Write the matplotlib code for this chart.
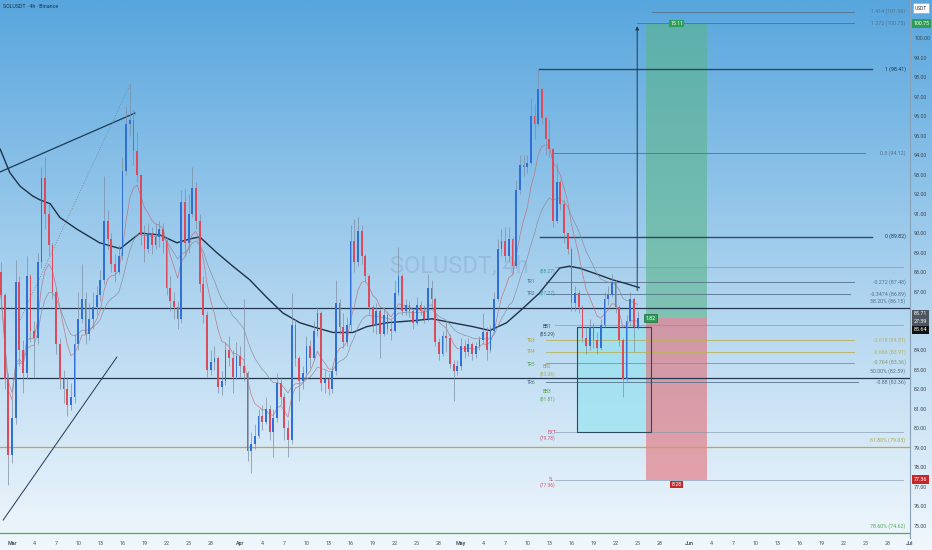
import matplotlib
matplotlib.use("Agg")
import matplotlib.pyplot as plt
import matplotlib.dates as mdates
from matplotlib.colors import LinearSegmentedColormap
from matplotlib.patches import Rectangle
import numpy as np
import pandas as pd

plt.rcParams['font.family'] = ['Roboto', 'DejaVu Sans']

# SOLUSDT candles (12h buckets), first one opens Feb 27 12:00
first_open = 88.0
closes = [86.8, 82.5, 78.6, 80.5, 87.5, 84.0, 82.8, 87.8, 85.0, 84.6,
          88.5, 92.8, 91.0, 89.4, 87.0, 84.3, 82.5, 82.0, 81.2, 81.6,
          84.3, 85.6, 86.6, 84.8, 85.6, 86.2, 86.8, 87.6, 90.6, 89.7,
          88.4, 88.0, 88.8, 93.2, 95.6, 95.8, 94.2, 93.0, 89.9, 89.2,
          90.0, 89.4, 89.8, 90.2, 89.6, 87.2, 86.5, 86.2, 85.6, 91.6,
          89.5, 91.0, 92.3, 90.6, 87.4, 85.8, 83.0, 83.4, 83.6, 82.1,
          82.4, 84.0, 83.6, 82.6, 83.7, 83.2, 82.8, 78.8, 79.2, 79.6,
          80.6, 80.3, 81.0, 79.8, 80.5, 82.3, 81.6, 80.0, 79.4, 85.3,
          83.6, 82.4, 82.8, 84.2, 83.6, 85.0, 85.9, 82.3, 82.5, 82.0,
          82.9, 86.4, 85.2, 84.4, 85.3, 89.6, 88.5, 90.1, 88.8, 87.8,
          86.2, 85.3, 86.0, 84.8, 85.8, 85.1, 85.0, 86.9, 87.8, 86.0,
          86.3, 86.0, 85.4, 86.3, 86.0, 85.6, 87.2, 86.6, 84.4, 83.8,
          84.7, 84.6, 83.3, 82.9, 83.2, 84.2, 83.9, 84.3, 83.8, 84.2,
          84.5, 84.9, 84.0, 85.0, 86.6, 89.2, 89.6, 88.8, 89.7, 88.3,
          92.2, 93.5, 93.4, 93.6, 96.0, 95.6, 97.4, 95.9, 94.8, 94.3,
          90.6, 92.6, 91.5, 90.0, 89.2, 86.4, 86.9, 86.2, 84.6, 84.2,
          85.2, 84.5, 84.1, 85.3, 86.6, 86.8, 87.5, 86.2, 84.5, 82.5,
          85.5, 86.6, 85.2, 85.64]
highs = [88.5, 86.9, 82.8, 81.5, 88.6, 87.8, 84.5, 88.8, 87.9, 85.5,
         89.0, 93.4, 93.9, 91.5, 89.5, 87.2, 84.6, 83.0, 82.6, 82.3,
         84.8, 87.0, 88.4, 87.0, 86.4, 87.0, 87.3, 88.1, 92.9, 91.2,
         90.0, 88.9, 89.4, 93.9, 96.5, 97.7, 96.3, 95.2, 92.5, 90.4,
         90.5, 90.3, 90.5, 90.6, 90.5, 89.8, 87.8, 87.0, 86.5, 92.2,
         92.3, 92.0, 93.4, 92.6, 91.0, 87.8, 86.0, 84.0, 84.2, 83.7,
         82.9, 84.4, 84.7, 84.0, 84.4, 84.2, 86.6, 82.9, 79.8, 80.2,
         81.0, 81.2, 81.6, 81.2, 81.0, 82.8, 82.6, 81.8, 80.4, 86.9,
         85.6, 83.7, 83.2, 84.7, 84.5, 85.5, 86.2, 86.0, 83.0, 82.8,
         83.2, 87.6, 86.6, 85.9, 85.7, 90.4, 90.7, 90.8, 90.4, 88.9,
         87.9, 86.3, 86.4, 86.1, 86.2, 86.0, 85.6, 87.6, 89.3, 87.9,
         86.6, 86.5, 86.1, 86.7, 86.5, 86.3, 87.9, 87.6, 86.7, 84.6,
         85.0, 85.5, 84.8, 83.5, 83.5, 84.6, 84.5, 84.6, 84.4, 84.4,
         84.7, 85.9, 85.2, 85.3, 87.0, 89.7, 90.2, 90.3, 90.3, 89.8,
         92.7, 94.0, 94.0, 94.0, 96.9, 96.6, 98.4, 97.5, 96.0, 95.8,
         94.3, 93.6, 92.7, 91.7, 90.0, 89.3, 87.3, 87.1, 86.3, 85.2,
         85.6, 85.4, 84.9, 85.6, 87.0, 87.3, 87.9, 87.6, 86.3, 84.6,
         85.8, 87.0, 86.7, 86.0]
lows = [86.5, 82.0, 77.1, 78.2, 80.2, 83.2, 81.8, 82.5, 84.4, 82.6,
        84.3, 88.2, 90.2, 88.8, 86.6, 83.8, 82.0, 81.3, 80.6, 80.9,
        81.3, 84.0, 85.4, 84.3, 84.5, 85.1, 85.8, 86.5, 87.4, 89.2,
        88.0, 87.5, 87.9, 88.6, 93.0, 95.0, 93.5, 92.6, 89.4, 88.5,
        89.0, 88.9, 89.2, 89.3, 89.0, 86.8, 86.0, 85.6, 85.1, 85.4,
        88.8, 89.0, 90.8, 90.2, 87.0, 85.4, 82.6, 82.7, 83.0, 81.8,
        81.7, 82.2, 83.2, 81.8, 82.5, 82.6, 82.4, 78.3, 77.7, 78.9,
        79.5, 79.9, 80.2, 79.4, 78.5, 80.3, 81.2, 79.4, 78.5, 79.2,
        83.2, 81.4, 82.0, 82.6, 83.1, 83.5, 84.7, 81.9, 81.8, 81.7,
        81.8, 82.7, 84.8, 84.1, 84.2, 85.0, 88.0, 88.3, 88.4, 87.5,
        85.8, 84.9, 84.8, 83.6, 84.7, 84.8, 84.5, 84.9, 86.8, 85.8,
        85.8, 85.7, 85.1, 85.3, 85.8, 85.4, 85.5, 86.2, 84.2, 83.5,
        83.7, 83.9, 83.1, 81.4, 82.7, 83.0, 83.6, 83.7, 83.5, 83.6,
        84.0, 84.3, 83.5, 83.9, 84.9, 86.5, 88.8, 88.5, 88.5, 87.9,
        88.2, 92.0, 92.9, 93.1, 93.5, 94.8, 95.5, 95.6, 94.0, 93.9,
        90.3, 90.5, 91.2, 89.5, 88.9, 86.0, 86.0, 85.9, 84.4, 83.8,
        84.0, 84.1, 83.8, 84.0, 85.2, 86.3, 86.7, 85.9, 84.2, 81.6,
        82.4, 85.3, 83.9, 85.1]

# slow moving average (thick line), days after Mar 1
ma_days = [-1.6, -0.3, 1.1, 2.8, 3.8, 5.2, 6.5, 8.8, 11.9, 14.7, 17.4, 20.1,
           22.4, 24.2, 25.5, 27.8, 30.0, 32.3, 34.6, 36.8, 39.1, 40.8, 43.6,
           46.3, 48.2, 50.9, 54.4, 57.1, 59.8, 62.6, 64.9, 67.2, 69.3, 71.6,
           74.4, 75.7, 77.1, 79.4, 81.6, 83.5, 85.2]
ma_vals = [94.3, 93.1, 92.4, 91.9, 91.7, 91.5, 90.8, 90.2, 89.5, 89.2, 90.0,
           89.9, 89.5, 89.7, 89.8, 89.0, 88.3, 87.6, 86.7, 85.9, 85.4, 85.2,
           84.9, 84.9, 85.2, 85.4, 85.5, 85.6, 85.4, 85.2, 85.0, 85.4, 86.1,
           86.9, 88.2, 88.3, 88.2, 87.9, 87.6, 87.4, 87.2]

# trend drawings: (day, price) pairs
trend_upper = [(-1.63, 93.13), (16.7, 96.15)]
trend_dotted = [(1.1, 85.54), (16.0, 97.59)]
trend_lower = [(-1.2, 75.28), (14.25, 83.64)]

# fib extension levels on the right
fib_labels = ["1.414 (101.36)", "1.272 (100.75)", "1 (98.41)", "0.5 (94.12)",
              "0 (89.82)", "-0.272 (87.48)", "-0.3474 (86.89)", "-0.618 (84.51)",
              "-0.666 (83.91)", "-0.764 (83.36)", "-0.88 (82.36)"]
fib_prices = [101.36, 100.75, 98.41, 94.12, 89.82, 87.48, 86.89, 84.51,
              83.91, 83.36, 82.36]
fib_start = [87.0, 84.9, 71.6, 73.4, 71.8, 72.5, 72.5, 72.5, 72.5, 72.5, 72.5]
fib_colors = ["#55708a", "#55708a", "#1d3550", "#55708a", "#1d3550", "#55708a",
              "#55708a", "#b9b25a", "#b9b25a", "#7f9a78", "#55708a"]

# retracement levels drawn across the chart
ret_labels = ["38.20% (86.15)", "50.00% (82.59)", "61.80% (79.03)", "78.60% (74.62)"]
ret_prices = [86.15, 82.59, 79.03, 74.62]
ret_colors = ["#22374d", "#22374d", "#c9a536", "#4caf50"]
ret_text_colors = ["#55708a", "#55708a", "#b0a850", "#4caf50"]

# other levels
extra_prices = [88.27, 85.29, 79.78, 77.36]

# level tags next to the zone
tag_texts = ["(88.27)", "TR1", "TR2", "(87.27)", "BB1", "(85.29)", "TR3", "TR4",
             "TR5", "BB2", "(83.06)", "TR6", "BB3", "(81.81)", "EXT", "(79.78)",
             "SL", "(77.36)"]
tag_days = [72.7, 70.6, 70.6, 72.8, 72.7, 72.7, 70.6, 70.6, 70.6, 72.7, 72.7,
            70.6, 72.7, 72.7, 73.3, 72.7, 73.3, 72.7]
tag_prices = [88.05, 87.5, 86.9, 86.9, 85.2, 84.82, 84.51, 83.9, 83.28, 83.13,
              82.77, 82.31, 81.85, 81.49, 79.79, 79.49, 77.38, 77.08]
tag_colors = ["#3a9aa0", "#55708a", "#55708a", "#3a9aa0", "#3d4f63", "#3d4f63",
              "#b0a850", "#b0a850", "#5aa85a", "#b0a850", "#b0a850", "#55708a",
              "#5aa85a", "#5aa85a", "#d0587a", "#d0587a", "#d0587a", "#d0587a"]

# long position tool
entry, target, stop = 85.64, 100.75, 77.36
pos_start, pos_end = 86.16, 94.44
zone_start, zone_end, zone_low, zone_high = 76.8, 86.84, 79.78, 85.2

yticks = [75, 76, 77, 78, 79, 80, 81, 82, 83, 84, 87, 88, 89, 90, 91, 92, 93,
          94, 95, 96, 97, 98, 99, 100]

t0 = mdates.date2num(pd.Timestamp("2026-03-01"))
times = pd.date_range("2026-02-27 12:00", periods=len(closes), freq="12h")
x = mdates.date2num(times)
opens = [first_open] + closes[:-1]

fig = plt.figure(figsize=(9.32, 5.5), dpi=100)

# background gradient
bg = fig.add_axes([0, 0, 1, 1], zorder=-10)
cmap = LinearSegmentedColormap.from_list("bg", ["#58a6de", "#a9d1ee", "#f1f7fc"])
bg.imshow(np.linspace(0, 1, 256).reshape(-1, 1), aspect="auto", cmap=cmap,
          extent=[0, 1, 0, 1])
bg.axis("off")

ax = fig.add_axes([0, 12 / 550, 910 / 932, 538 / 550])
ax.patch.set_alpha(0)
ax.set_xlim(t0 - 1.63, t0 + 121.85)
ax.set_ylim(74.36, 101.95)

# watermark
ax.text(t0 + 51.3, 88.3, "SOLUSDT, 4h", fontsize=17, color="#86a9c8", alpha=0.45,
        ha="left", va="center", zorder=0)

# full width levels
for p, c in zip(ret_prices, ret_colors):
    ax.axhline(p, color=c, lw=0.9, zorder=2)
for lab, p, c in zip(ret_labels, ret_prices, ret_text_colors):
    ax.text(t0 + 121.4, p + 0.35, lab, fontsize=3.8, color=c, ha="right",
            va="center", zorder=6)

# fib levels
for lab, p, s, c in zip(fib_labels, fib_prices, fib_start, fib_colors):
    end = 121.4 - len(lab) * 0.5
    lw = 1.0 if c == "#1d3550" else 0.7
    ax.plot([t0 + s, t0 + end], [p, p], color=c, lw=lw, alpha=0.85, zorder=2)
    ax.text(t0 + 121.4, p, lab, fontsize=3.8, color=c, ha="right", va="center",
            zorder=6)
for p in extra_prices:
    ax.plot([t0 + 73.8, t0 + 121.0], [p, p], color="#7d93a8", lw=0.6,
            alpha=0.7, zorder=2)

# trend lines
ax.plot([t0 + trend_upper[0][0], t0 + trend_upper[1][0]],
        [trend_upper[0][1], trend_upper[1][1]], color="#1f3a55", lw=0.9, zorder=3)
ax.plot([t0 + trend_lower[0][0], t0 + trend_lower[1][0]],
        [trend_lower[0][1], trend_lower[1][1]], color="#1f3a55", lw=0.7, zorder=3)
ax.plot([t0 + trend_dotted[0][0], t0 + trend_dotted[1][0]],
        [trend_dotted[0][1], trend_dotted[1][1]], color="#6d8296", lw=0.6,
        ls=(0, (1, 2)), zorder=3)

# zone and position tool
ax.add_patch(Rectangle((t0 + zone_start, zone_low), zone_end - zone_start,
                       zone_high - zone_low, fc="#8fe3ef", alpha=0.6, ec="none", zorder=1))
ax.add_patch(Rectangle((t0 + zone_start, zone_low), zone_end - zone_start,
                       zone_high - zone_low, fc="none", ec="#2f4a5e", lw=0.8, zorder=4))
ax.add_patch(Rectangle((t0 + pos_start, entry), pos_end - pos_start, target - entry,
                       fc="#5bb58a", alpha=0.6, ec="none", zorder=1))
ax.add_patch(Rectangle((t0 + pos_start, stop), pos_end - pos_start, entry - stop,
                       fc="#e5636a", alpha=0.55, ec="none", zorder=1))
ax.annotate("", xy=(t0 + 84.94, 100.75), xytext=(t0 + 84.94, 86.9),
            arrowprops=dict(arrowstyle="-|>", color="#23384e", lw=0.7,
                            mutation_scale=5), zorder=5)
mid = t0 + (pos_start + pos_end) / 2
ax.text(mid, target, "15.11", fontsize=3.8, color="white", ha="center", va="center",
        bbox=dict(boxstyle="square,pad=0.25", fc="#2e9d57", ec="none"), zorder=7)
ax.text(t0 + pos_start + 0.6, entry, "1.82", fontsize=3.8, color="white", ha="center",
        va="center", bbox=dict(boxstyle="square,pad=0.25", fc="#2e9d57", ec="#1a6b3a",
                               lw=0.5), zorder=7)
ax.text(mid, stop - 0.25, "8.28", fontsize=3.8, color="white", ha="center", va="center",
        bbox=dict(boxstyle="square,pad=0.25", fc="#c62828", ec="none"), zorder=7)

# level tags
for t, d, p, c in zip(tag_texts, tag_days, tag_prices, tag_colors):
    ax.text(t0 + d, p, t, fontsize=3.5, color=c, ha="center", va="center", zorder=6)

# moving averages
ax.plot(t0 + np.array(ma_days), ma_vals, color="#1f3246", lw=1.0, zorder=4)
s = pd.Series(closes)
ax.plot(x, s.ewm(span=8).mean(), color="#c0707c", lw=0.5, alpha=0.9, zorder=4)
ax.plot(x, s.ewm(span=20).mean(), color="#8b8a98", lw=0.5, alpha=0.9, zorder=4)

# candles
o = np.array(opens)
c = np.array(closes)
up = c >= o
cols = np.where(up, "#2f6fd6", "#dc4b5c")
ax.vlines(x, lows, highs, color="#7d8ea3", lw=0.5, zorder=5)
ax.bar(x, np.maximum(np.abs(c - o), 0.08), bottom=np.minimum(o, c), width=0.24,
       color=cols, zorder=5)

# axes styling
for side in ["top", "left", "bottom"]:
    ax.spines[side].set_visible(False)
ax.spines["right"].set_color("#8aa2b8")
ax.spines["right"].set_linewidth(0.8)
ax.yaxis.tick_right()
ax.set_yticks(yticks)
ax.set_yticklabels([f"{v:.2f}" for v in yticks])
ax.tick_params(axis="y", length=0, pad=3, labelsize=3.9, colors="#3d4a57")

xt, xl = [], []
for month, name in [(3, "Mar"), (4, "Apr"), (5, "May"), (6, "Jun")]:
    for day in range(1, 29, 3):
        xt.append(mdates.date2num(pd.Timestamp(2026, month, day)))
        xl.append(name if day == 1 else str(day))
xt.append(mdates.date2num(pd.Timestamp(2026, 7, 1)))
xl.append("Jul")
ax.set_xticks(xt)
ax.set_xticklabels(xl)
ax.tick_params(axis="x", length=0, pad=2, labelsize=3.9, colors="#4a5866")
for lab in ax.get_xticklabels():
    if lab.get_text() in ("Mar", "Apr", "May", "Jun", "Jul"):
        lab.set_fontweight("bold")

# price tags on the axis
tags = [("100.75", 100.75, "#2e9d57"), ("85.71", 85.85, "#4d5560"),
        ("27:39", 85.44, "#4d5560"), ("85.64", 85.03, "#111111"),
        ("77.36", 77.36, "#c62828")]
for t, p, col in tags:
    ax.text(1.004, p, t, transform=ax.get_yaxis_transform(), fontsize=3.9,
            color="white", ha="left", va="center", clip_on=False, zorder=10,
            bbox=dict(boxstyle="square,pad=0.3", fc=col, ec="none"))

fig.text(3 / 932, 1 - 7 / 550, "SOLUSDT · 4h · Binance", fontsize=3.8,
         color="#1d2f45", ha="left", va="center")
fig.text(921 / 932, 1 - 8 / 550, "USDT", fontsize=3.5, color="#333333",
         ha="center", va="center",
         bbox=dict(boxstyle="square,pad=0.5", fc="white", ec="#9aa9b8", lw=0.5))

fig.savefig("out.png", dpi=100)
